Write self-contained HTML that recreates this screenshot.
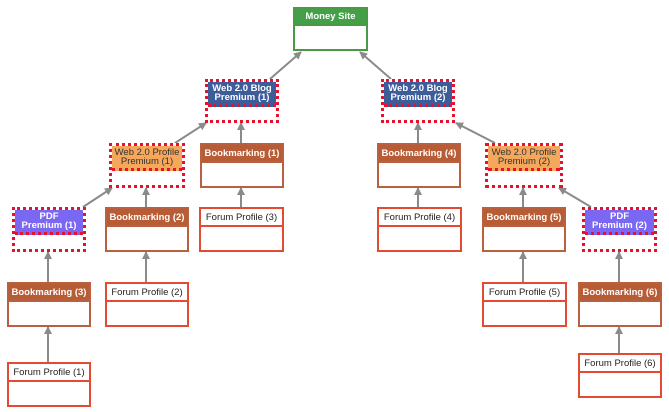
<!DOCTYPE html>
<html><head><meta charset="utf-8"><style>
body{margin:0;width:669px;height:412px;background:#fff;position:relative;overflow:hidden;font-family:"Liberation Sans",Arial,sans-serif}
.b{position:absolute;box-sizing:border-box;border:2px solid;background:#fff}
.h{box-sizing:border-box;text-align:center;font-size:9.5px;line-height:9px;display:flex;align-items:center;justify-content:center;border-bottom:2px solid}
.bold{font-weight:bold;color:#fff}
.ms{border-color:#4a9a45}.ms .h{background:#43a047;border-color:#4a9a45}
.bl{border:3px dotted #e8102a}.bl .h{background:#3d5c9a;border-bottom:3px dotted #e8102a}
.pr{border:3px dotted #e8102a}.pr .h{background:#f5a75c;color:#333;border-bottom:3px dotted #e8102a}
.pd{border:3px dotted #e8102a}.pd .h{background:#7b68f2;border-bottom:3px dotted #e8102a}
.bk{border-color:#b86040}.bk .h{background:#b85c36;border-color:#b86040}
.fp{border-color:#e34a33}.fp .h{background:#fff;color:#222;border-color:#e34a33}
svg{position:absolute;left:0;top:0}
</style></head><body>
<svg width="669" height="412">
<defs><marker id="a" markerWidth="8" markerHeight="8" refX="7" refY="4" orient="auto" markerUnits="userSpaceOnUse"><path d="M0,0 L8,4 L0,8 z" fill="#8a8a8a"/></marker></defs>
<g stroke="#8a8a8a" stroke-width="2" fill="none" marker-end="url(#a)">
<line x1="270" y1="79" x2="301" y2="52"/>
<line x1="391" y1="79" x2="360" y2="52"/>
<line x1="175" y1="143" x2="206" y2="123"/>
<line x1="241" y1="143" x2="241" y2="123"/>
<line x1="418" y1="143" x2="418" y2="123"/>
<line x1="495" y1="143" x2="456" y2="123"/>
<line x1="83" y1="207" x2="112" y2="188"/>
<line x1="146" y1="207" x2="146" y2="188"/>
<line x1="241" y1="207" x2="241" y2="188"/>
<line x1="418" y1="207" x2="418" y2="188"/>
<line x1="523" y1="207" x2="523" y2="188"/>
<line x1="591" y1="207" x2="559" y2="188"/>
<line x1="48" y1="282" x2="48" y2="252"/>
<line x1="146" y1="282" x2="146" y2="252"/>
<line x1="523" y1="282" x2="523" y2="252"/>
<line x1="619" y1="282" x2="619" y2="252"/>
<line x1="48" y1="362" x2="48" y2="327"/>
<line x1="619" y1="353" x2="619" y2="327"/>
</g></svg>

<div class="b ms" style="left:293px;top:7px;width:75px;height:44px"><div class="h bold" style="height:17px">Money Site</div></div>

<div class="b bl" style="left:205px;top:79px;width:74px;height:44px"><div class="h bold" style="height:25px">Web 2.0 Blog<br>Premium (1)</div></div>
<div class="b bl" style="left:381px;top:79px;width:74px;height:44px"><div class="h bold" style="height:25px">Web 2.0 Blog<br>Premium (2)</div></div>

<div class="b pr" style="left:109px;top:143px;width:76px;height:45px"><div class="h" style="height:25px">Web 2.0 Profile<br>Premium (1)</div></div>
<div class="b bk" style="left:200px;top:143px;width:84px;height:45px"><div class="h bold" style="height:18px">Bookmarking (1)</div></div>
<div class="b bk" style="left:377px;top:143px;width:84px;height:45px"><div class="h bold" style="height:18px">Bookmarking (4)</div></div>
<div class="b pr" style="left:485px;top:143px;width:78px;height:45px"><div class="h" style="height:25px">Web 2.0 Profile<br>Premium (2)</div></div>

<div class="b pd" style="left:12px;top:207px;width:74px;height:45px"><div class="h bold" style="height:25px">PDF<br>Premium (1)</div></div>
<div class="b bk" style="left:105px;top:207px;width:84px;height:45px"><div class="h bold" style="height:18px">Bookmarking (2)</div></div>
<div class="b fp" style="left:199px;top:207px;width:85px;height:45px"><div class="h" style="height:18px">Forum Profile (3)</div></div>
<div class="b fp" style="left:377px;top:207px;width:85px;height:45px"><div class="h" style="height:18px">Forum Profile (4)</div></div>
<div class="b bk" style="left:482px;top:207px;width:84px;height:45px"><div class="h bold" style="height:18px">Bookmarking (5)</div></div>
<div class="b pd" style="left:582px;top:207px;width:75px;height:45px"><div class="h bold" style="height:25px">PDF<br>Premium (2)</div></div>

<div class="b bk" style="left:7px;top:282px;width:84px;height:45px"><div class="h bold" style="height:18px">Bookmarking (3)</div></div>
<div class="b fp" style="left:105px;top:282px;width:84px;height:45px"><div class="h" style="height:18px">Forum Profile (2)</div></div>
<div class="b fp" style="left:482px;top:282px;width:85px;height:45px"><div class="h" style="height:18px">Forum Profile (5)</div></div>
<div class="b bk" style="left:578px;top:282px;width:84px;height:45px"><div class="h bold" style="height:18px">Bookmarking (6)</div></div>

<div class="b fp" style="left:7px;top:362px;width:84px;height:45px"><div class="h" style="height:18px">Forum Profile (1)</div></div>
<div class="b fp" style="left:578px;top:353px;width:84px;height:45px"><div class="h" style="height:18px">Forum Profile (6)</div></div>
</body></html>
